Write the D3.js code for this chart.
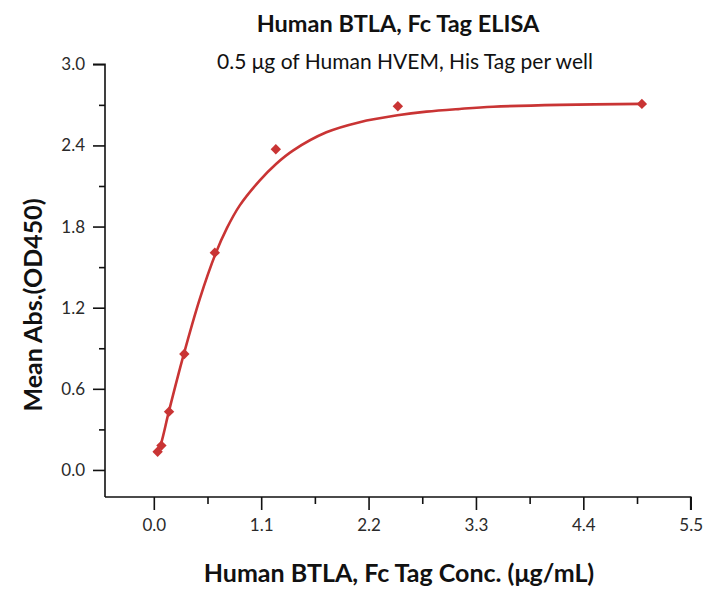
<!DOCTYPE html>
<html>
<head>
<meta charset="utf-8">
<script src="https://cdn.jsdelivr.net/npm/d3@7"></script>
<style>
  body { margin: 0; background: #fff; }
  svg { display: block; }
  text { font-family: Lato, "Open Sans", sans-serif; }
</style>
</head>
<body>
<svg id="chart" width="706" height="591"></svg>
<script>
// Measured data points
const concentrations = [0.039, 0.078, 0.156, 0.3125, 0.625, 1.25, 2.5, 5];
const meanAbs = [0.135, 0.18, 0.431, 0.858, 1.607, 2.372, 2.69, 2.707];

// Fitted curve
const curveX = [0.038, 0.076, 0.154, 0.308, 0.471, 0.633, 0.75, 0.879, 1.084, 1.255, 1.425, 1.768, 2.109, 2.496, 2.793, 3.134, 3.476, 4.16, 5.0];
const curveY = [0.126, 0.20, 0.431, 0.858, 1.265, 1.600, 1.790, 1.955, 2.140, 2.265, 2.362, 2.497, 2.572, 2.623, 2.650, 2.670, 2.686, 2.700, 2.707];

const xTicks = [0.0, 1.1, 2.2, 3.3, 4.4, 5.5];
const yTicks = [0.0, 0.6, 1.2, 1.8, 2.4, 3.0];

const titleText = "Human BTLA, Fc Tag ELISA";
const subtitleText = "0.5 \u03bcg of Human HVEM, His Tag per well";
const xLabel = "Human BTLA, Fc Tag Conc. (\u03bcg/mL)";
const yLabel = "Mean Abs.(OD450)";

const svg = d3.select("#chart");
const mLeft = 105, mRight = 690.7, mTop = 64.3, mBottom = 497;
const red = "#c93434";

const x = d3.scaleLinear().domain([-0.5, 5.5]).range([mLeft, mRight]);
const y = d3.scaleLinear().domain([-0.2, 3.0]).range([mBottom, mTop]);

// minor tick values
const xMinor = d3.range(0, 11).map(i => +(0.55 * i).toFixed(2)).filter(v => !xTicks.some(t => Math.abs(t - v) < 1e-6));
const yMinor = d3.range(0, 10).map(i => +(0.3 * i).toFixed(2)).filter(v => !yTicks.some(t => Math.abs(t - v) < 1e-6));

// X axis
const gx = svg.append("g").attr("transform", `translate(0,${mBottom})`);
gx.call(d3.axisBottom(x).tickValues(xTicks).tickFormat(d3.format(".1f")).tickSizeInner(13).tickSizeOuter(0).tickPadding(9));
gx.append("g").call(d3.axisBottom(x).tickValues(xMinor).tickFormat("").tickSizeInner(7).tickSizeOuter(0))
  .select(".domain").remove();
gx.select(".domain").attr("d", `M${mLeft},0H${mRight}V13`);

// Y axis
const gy = svg.append("g").attr("transform", `translate(${mLeft},0)`);
gy.call(d3.axisLeft(y).tickValues(yTicks).tickFormat(d3.format(".1f")).tickSizeInner(12).tickSizeOuter(0).tickPadding(8));
gy.append("g").call(d3.axisLeft(y).tickValues(yMinor).tickFormat("").tickSizeInner(6).tickSizeOuter(0))
  .select(".domain").remove();
gy.select(".domain").attr("d", `M-12,${mTop}H0V${mBottom}`);

svg.selectAll(".domain, .tick line").attr("stroke", "#111").attr("stroke-width", 1.6);
svg.selectAll(".tick text").attr("font-size", 17).attr("fill", "#2a2a2a").style("font-family", "Lato, sans-serif");

// Curve
const curveData = curveX.map((v, i) => [v, curveY[i]]);
svg.append("path")
  .datum(curveData)
  .attr("fill", "none")
  .attr("stroke", red)
  .attr("stroke-width", 2.6)
  .attr("d", d3.line().x(d => x(d[0])).y(d => y(d[1])).curve(d3.curveCatmullRom.alpha(0.5)));

// Points (diamonds = rotated squares)
const sym = d3.symbol().type(d3.symbolSquare).size(54);
svg.append("g").selectAll("path")
  .data(concentrations.map((c, i) => [c, meanAbs[i]]))
  .join("path")
  .attr("d", sym)
  .attr("fill", red)
  .attr("transform", d => `translate(${x(d[0])},${y(d[1])}) rotate(45)`);

// Titles
svg.append("text").attr("x", 398).attr("y", 32).attr("text-anchor", "middle")
  .attr("font-size", 23.5).attr("font-weight", "bold").attr("fill", "#111").text(titleText);
svg.append("text").attr("x", 405).attr("y", 69).attr("text-anchor", "middle")
  .attr("font-size", 21).attr("fill", "#111").text(subtitleText);

svg.append("text").attr("x", 399).attr("y", 582).attr("text-anchor", "middle")
  .attr("font-size", 25).attr("font-weight", "bold").attr("fill", "#111").text(xLabel);
svg.append("text").attr("transform", "translate(42,305) rotate(-90)").attr("text-anchor", "middle")
  .attr("font-size", 25).attr("font-weight", "bold").attr("fill", "#111").text(yLabel);
</script>
</body>
</html>
